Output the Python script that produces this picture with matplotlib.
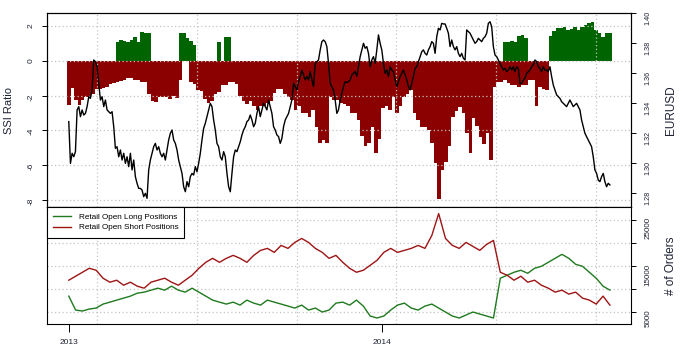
import numpy as np
import pandas as pd
import matplotlib
matplotlib.use('Agg')
import matplotlib.pyplot as plt
import matplotlib.dates as mdates
from matplotlib.transforms import Bbox, TransformedBbox
import datetime as dt

plt.rcParams['font.family'] = ['Liberation Sans', 'DejaVu Sans']

# ---------------- data ----------------
start_date, end_date = '2013-01-01', '2014-09-24'
nan = np.nan

eurusd = [
    1.3278, 1.3000, 1.3067, 1.3044, 1.3078, 1.3356, 1.3378, 1.3311, 1.3356, 1.3322,
    1.3333, 1.3378, 1.3444, 1.3433, 1.3489, 1.3689, 1.3678, 1.3644, 1.3533, 1.3422,
    1.3444, 1.3378, 1.3422, 1.3356, 1.3344, 1.3333, 1.3344, 1.3244, 1.3100, 1.3111,
    1.3044, 1.3089, 1.3022, 1.3067, 1.3000, 1.3044, 1.2978, 1.3067, 1.2956, 1.3022,
    1.2911, 1.2867, 1.2833, 1.2833, 1.2822, 1.2778, 1.2800, 1.2767, 1.2956, 1.3022,
    1.3067, 1.3111, 1.3133, 1.3089, 1.3111, 1.3067, 1.3044, 1.3067, 1.3022, 1.3089,
    1.3156, 1.3200, 1.3222, 1.3156, 1.3133, 1.3089, 1.3022, 1.2978, 1.2933, 1.2844,
    1.2811, 1.2878, 1.2844, 1.2911, 1.2933, 1.2922, 1.2978, 1.2944, 1.3000, 1.3067,
    1.3156, 1.3233, 1.3267, 1.3311, 1.3356, 1.3400, 1.3378, 1.3289, 1.3222, 1.3133,
    1.3111, 1.3044, 1.3022, 1.3078, 1.3044, 1.2933, 1.2844, 1.2811, 1.2933, 1.3044,
    1.3089, 1.3078, 1.3111, 1.3144, 1.3189, 1.3222, 1.3244, 1.3278, 1.3289, 1.3322,
    1.3289, 1.3244, 1.3267, 1.3333, 1.3378, 1.3311, 1.3356, 1.3400, 1.3378, 1.3356,
    1.3422, 1.3378, 1.3333, 1.3244, 1.3222, 1.3189, 1.3178, 1.3133, 1.3167, 1.3244,
    1.3289, 1.3311, 1.3333, 1.3378, 1.3422, 1.3533, 1.3511, 1.3489, 1.3544, 1.3578,
    1.3622, 1.3589, 1.3556, 1.3578, 1.3556, 1.3611, 1.3556, 1.3511, 1.3667, 1.3678,
    1.3689, 1.3756, 1.3811, 1.3822, 1.3811, 1.3778, 1.3667, 1.3533, 1.3511, 1.3489,
    1.3422, 1.3333, 1.3356, 1.3422, 1.3467, 1.3511, 1.3544, 1.3538, 1.3544, 1.3556,
    1.3589, 1.3600, 1.3611, 1.3578, 1.3644, 1.3711, 1.3756, 1.3800, 1.3767, 1.3778,
    1.3733, 1.3644, 1.3689, 1.3711, 1.3667, 1.3756, 1.3856, 1.3800, 1.3756, 1.3667,
    1.3600, 1.3622, 1.3578, 1.3644, 1.3622, 1.3611, 1.3556, 1.3511, 1.3544, 1.3578,
    1.3600, 1.3622, 1.3589, 1.3556, 1.3511, 1.3489, 1.3533, 1.3578, 1.3633, 1.3644,
    1.3678, 1.3711, 1.3744, 1.3756, 1.3733, 1.3722, 1.3756, 1.3778, 1.3811, 1.3800,
    1.3733, 1.3844, 1.3900, 1.3889, 1.3933, 1.3929, 1.3929, 1.3900, 1.3867, 1.3778,
    1.3822, 1.3778, 1.3756, 1.3778, 1.3733, 1.3711, 1.3733, 1.3700, 1.3689, 1.3889,
    1.3878, 1.3867, 1.3844, 1.3822, 1.3800, 1.3811, 1.3833, 1.3822, 1.3811, 1.3833,
    1.3844, 1.3867, 1.3933, 1.3944, 1.3911, 1.3778, 1.3722, 1.3711, 1.3689, 1.3667,
    1.3644, 1.3622, 1.3633, 1.3611, 1.3622, 1.3644, 1.3622, 1.3644, 1.3611, 1.3644,
    1.3633, 1.3533, 1.3533, 1.3556, 1.3567, 1.3600, 1.3611, 1.3622, 1.3644, 1.3656,
    1.3689, 1.3678, 1.3644, 1.3633, 1.3611, 1.3644, 1.3622, 1.3622, 1.3611, 1.3644,
    1.3578, 1.3522, 1.3489, 1.3456, 1.3444, 1.3433, 1.3411, 1.3400, 1.3389, 1.3378,
    1.3400, 1.3422, 1.3400, 1.3378, 1.3389, 1.3400, 1.3378, 1.3356, 1.3289, 1.3244,
    1.3200, 1.3178, 1.3156, 1.3133, 1.3111, 1.3044, 1.2956, 1.2933, 1.2889, 1.2878,
    1.2911, 1.2933, 1.2878, 1.2844, 1.2867, 1.2856,
]

ssi_short = [
    -2.53, -1.57, -2.24, -2.53, -2.24, -2.05, -2.05, -1.9, -1.6, -1.6,
    -1.55, -1.48, -1.35, -1.28, -1.2, -1.15, -1.09, -1.0, -1.0, -1.09,
    -1.09, -1.19, -1.19, -1.9, -2.3, -2.35, -2.05, -2.1, -2.1, -2.2,
    -2.0, -2.15, -1.1, nan, nan, -1.2, -1.3, -1.7, -1.75, -2.2,
    -2.4, -2.3, -1.9, -1.8, -1.4, -1.4, -1.2, -1.2, -1.3, -2.0,
    -2.3, -2.5, -2.3, -2.62, -2.82, -2.62, -2.62, -2.4, -2.3, -1.86,
    -1.6, -1.6, -1.9, -2.05, -2.24, -2.82, -2.62, -3.0, -3.0, -3.2,
    -2.82, -3.8, -4.7, -4.54, -4.75, -2.05, -2.24, -2.24, -2.43, -2.5,
    -2.62, -3.0, -3.0, -3.4, -4.35, -4.9, -4.7, -3.8, -5.3, -4.5,
    -2.7, -2.6, -2.8, -2.05, -3.0, -2.6, -2.1, -1.9, -1.7, -3.0,
    -3.4, -3.8, -3.8, -4.0, -4.7, -5.9, -7.95, -6.3, -5.8, -4.9,
    -3.2, -2.9, -2.65, -3.0, -4.16, -5.3, -3.3, -3.77, -4.4, -4.8,
    -4.16, -5.7, -1.5, -1.2, -1.2, -1.1, -1.28, -1.38, -1.38, -1.48,
    -1.38, -1.38, -1.1, -1.1, -2.6, -1.48, -1.6, -1.67,
] + [nan] * 18

ssi_long = ([nan] * 14 +
            [1.11, 1.21, 1.15, 1.11, 1.21, 1.36, 1.11, 1.69, 1.59, 1.59] +
            [nan] * 8 +
            [1.59, 1.59, 1.35, 1.15, 0.9] +
            [nan] * 6 +
            [1.11, nan, 1.4, 1.4] +
            [nan] * 78 +
            [1.11, 1.11, 1.15, 1.11, 1.45, 1.5, 1.35] +
            [nan] * 6 +
            [1.45, 1.7, 1.87, 1.87, 1.97, 1.8, 1.85, 1.97, 1.78, 1.97,
             2.1, 2.2, 2.25, 1.8, 1.6, 1.4, 1.59, 1.59])

orders_long = [
    8510, 5500, 5290, 5720, 5930, 6790, 7210, 7650, 8080, 8510,
    9150, 9370, 9800, 10230, 9800, 10660, 9800, 9370, 10230, 9370,
    8510, 7650, 7210, 6790, 7210, 6570, 7650, 7000, 6570, 7650,
    7210, 6790, 6360, 5930, 6570, 5500, 5930, 5070, 5500, 7000,
    7210, 6570, 7650, 6360, 4210, 3780, 4210, 5500, 6570, 7000,
    5930, 5500, 6360, 6790, 5930, 5070, 4210, 3780, 4430, 5070,
    4640, 4210, 3780, 12380, 13020, 13670, 14100, 13450, 14530, 14960,
    15820, 16680, 17540, 16680, 15390, 14960, 13670, 12380, 10660, 9800,
]
orders_short = [
    11950, 12810, 13670, 14530, 14100, 12380, 11520, 11950, 10870, 11520,
    10660, 10230, 11520, 11950, 12380, 11520, 10870, 11950, 13020, 14530,
    15820, 16680, 15820, 16680, 17320, 16680, 15820, 17320, 18400, 18830,
    17970, 19470, 18830, 20120, 20980, 20120, 18830, 17970, 16680, 17320,
    15820, 14530, 13670, 14100, 15170, 16250, 17970, 18830, 17970, 18400,
    18830, 19470, 18830, 21620, 26350, 20980, 19470, 18830, 20120, 19260,
    18400, 19690, 20550, 13670, 13020, 11950, 12810, 11520, 11950, 10870,
    10230, 9370, 9800, 8940, 9370, 8080, 7650, 6790, 8510, 6570,
]

ssi_ticks = [-8, -6, -4, -2, 0, 2]
fx_ticks = [1.28, 1.30, 1.32, 1.34, 1.36, 1.38, 1.40]
order_ticks = [5000, 10000, 15000, 20000, 25000]
order_labels = ['5000', '', '15000', '', '25000']
year_ticks = ['2013-01-01', '2014-01-01']
year_labels = ['2013', '2014']
legend_labels = ['Retail Open Long Positions', 'Retail Open Short Positions']

# ---------------- positions ----------------
def datenums(n):
    return mdates.date2num(pd.date_range(start_date, end_date, periods=n).to_pydatetime())

bx_x = datenums(len(ssi_short))
fx_x = datenums(len(eurusd))
ox = datenums(len(orders_long))
step = bx_x[1] - bx_x[0]
x0 = mdates.date2num(dt.datetime(2013, 1, 1))
xlim = (x0 - 25.4, x0 + 655.6)
grid_x = [x0 + 33 + 116.3 * k for k in range(6)]

RED = '#8b0000'
GREEN = '#006400'
LRED = '#9e1414'
LGREEN = '#1f7a1f'
GRID = '#c4c4c4'
TXT = '#1e2233'
gls = (0, (1, 2))

fig = plt.figure(figsize=(6.83, 3.52), dpi=100)
ax = fig.add_axes([0.06881, 0.41108, 0.85505, 0.55284])
axr = ax.twinx()
bx = fig.add_axes([0.06881, 0.07869, 0.85505, 0.33239])

# ---- top panel: SSI bars ----
s_short = np.array(ssi_short, dtype=float)
s_long = np.array(ssi_long, dtype=float)
m = ~np.isnan(s_short)
ax.bar(bx_x[m], s_short[m], width=step, color=RED, linewidth=0, zorder=1)
m = ~np.isnan(s_long)
ax.bar(bx_x[m], s_long[m], width=step, color=GREEN, linewidth=0, zorder=1)
ax.set_axisbelow(False)
for gx in grid_x:
    ax.axvline(gx, color=GRID, lw=0.9, ls=gls, zorder=2)
for gy in ssi_ticks:
    ax.axhline(gy, color=GRID, lw=0.9, ls=gls, zorder=2)
ax.set_xlim(xlim)
ax.set_ylim(-8.43, 2.78)
ax.set_yticks(ssi_ticks)
ax.set_yticklabels([str(t) for t in ssi_ticks])
ax.tick_params(axis='y', labelrotation=90, labelsize=6, length=3.6, width=0.7,
               pad=5.5, labelcolor=TXT)
ax.tick_params(axis='x', bottom=False, labelbottom=False)
ax.set_ylabel('SSI Ratio', fontsize=8, color=TXT)
ax.yaxis.set_label_coords(-0.056, 0.5)

# ---- EURUSD line ----
axr.plot(fx_x, eurusd, color='black', lw=1.0, zorder=3)
axr.set_ylim(1.2707, 1.4004)
axr.set_yticks(fx_ticks)
axr.set_yticklabels(['%.2f' % t for t in fx_ticks])
axr.tick_params(axis='y', labelrotation=90, labelsize=5.2, length=3.6, width=0.7,
                pad=6, labelcolor=TXT)
axr.set_ylabel('EURUSD', fontsize=8.5, color=TXT)
axr.yaxis.set_label_coords(1.058, 0.5)
axr.set_xlim(xlim)

for a in (ax, axr):
    for sp in a.spines.values():
        sp.set_linewidth(0.8)

# ---- bottom panel: orders ----
for gx in grid_x:
    bx.axvline(gx, color=GRID, lw=0.9, ls=gls, zorder=1)
for gy in order_ticks:
    bx.axhline(gy, color=GRID, lw=0.9, ls=gls, zorder=1)
bx.plot(ox, orders_long, color=LGREEN, lw=1.0, zorder=3, label=legend_labels[0])
bx.plot(ox, orders_short, color=LRED, lw=1.0, zorder=3, label=legend_labels[1])
bx.set_xlim(xlim)
bx.set_ylim(2420, 27710)
bx.yaxis.tick_right()
bx.set_yticks(order_ticks)
bx.set_yticklabels(order_labels)
bx.tick_params(axis='y', labelrotation=90, labelsize=5.8, length=3.6, width=0.7,
               pad=6, labelcolor=TXT)
bx.yaxis.set_label_position('right')
bx.set_ylabel('# of Orders', fontsize=8.5, color=TXT)
bx.yaxis.set_label_coords(1.058, 0.5)
yt = [mdates.date2num(pd.Timestamp(d).to_pydatetime()) for d in year_ticks]
bx.set_xticks(yt)
bx.set_xticklabels(year_labels)
bx.tick_params(axis='x', labelsize=6, length=5.5, width=0.7, pad=5, labelcolor=TXT)
for sp in bx.spines.values():
    sp.set_linewidth(0.8)

leg = bx.legend(loc='upper left', bbox_to_anchor=(0, 1), borderaxespad=0,
                fontsize=5.9, frameon=True, fancybox=False, borderpad=0.75,
                labelspacing=0.3, handlelength=2.2, handletextpad=0.9)
leg.get_frame().set_edgecolor('black')
leg.get_frame().set_linewidth(0.8)
leg.get_frame().set_alpha(1)
leg.set_zorder(5)

# clip the top-most tick labels as in the original
fig.canvas.draw()
t = axr.yaxis.get_major_ticks()[-1]
t.label2.set_clip_on(True)
t.label2.set_clip_box(TransformedBbox(Bbox.from_extents(0, 0, 1, (352 - 13) / 352),
                                      fig.transFigure))
t = bx.yaxis.get_major_ticks()[-1]
t.label2.set_clip_on(True)
t.label2.set_clip_box(TransformedBbox(Bbox.from_extents(0, 0, 1, (352 - 218) / 352),
                                      fig.transFigure))

fig.savefig('out.png', dpi=100)
